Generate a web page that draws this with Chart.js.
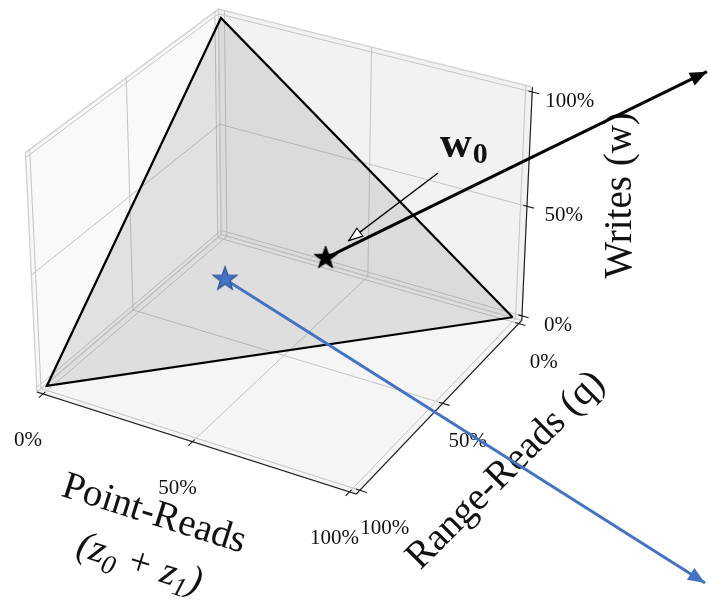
<!DOCTYPE html>
<html>
<head>
<meta charset="utf-8">
<title>Workload space</title>
<script src="https://cdn.jsdelivr.net/npm/chart.js@4.4.1/dist/chart.umd.min.js"></script>
<style>
  html, body { margin: 0; padding: 0; background: #ffffff; }
  #wrap { width: 708px; height: 602px; }
</style>
</head>
<body>
<div id="wrap"><canvas id="chart" width="708" height="602"></canvas></div>
<script>
const CANVAS_W = 708;
const CANVAS_H = 602;

// tick values shared by the three axes, and their labels
const axisTicks = [0, 50, 100];
const tickLabels = ['0%', '50%', '100%'];

// corners of the workload simplex: [point reads, range reads, writes] in %
const simplexCorners = [[100, 0, 0], [0, 100, 0], [0, 0, 100]];

// workloads marked with stars: [point reads, range reads, writes] in %
const expectedWorkload = [50, 25, 25];   // w0
const otherWorkload = [29, 48, 23];

// where the two call-out arrows point, as fractions of the figure
const blackArrowTip = [0.9985, 0.119];
const blueArrowTip = [0.9958, 0.9685];

// camera for the 3-D box (elevation / azimuth in degrees, perspective distance in box units)
const VIEW = { elev: 30, azim: 29.5, dist: 8.75, scale: 349, cx: 284, cy: 240, box: [1, 1, 0.75], pad: 100 / 48 };
const LO = -VIEW.pad, HI = 100 + VIEW.pad;

function project(p) {
  const e = VIEW.elev * Math.PI / 180, a = VIEW.azim * Math.PI / 180;
  const px = p[0] / 100 * VIEW.box[0] - VIEW.box[0] / 2;
  const py = p[1] / 100 * VIEW.box[1] - VIEW.box[1] / 2;
  const pz = p[2] / 100 * VIEW.box[2] - VIEW.box[2] / 2;
  const sx = px * Math.cos(a) - py * Math.sin(a);
  const toward = px * Math.sin(a) + py * Math.cos(a);
  const up = -Math.sin(e) * toward + Math.cos(e) * pz;
  const depth = Math.cos(e) * toward + Math.sin(e) * pz;
  const f = VIEW.dist / (VIEW.dist - depth);
  return { x: VIEW.cx + VIEW.scale * f * sx, y: VIEW.cy - VIEW.scale * f * up };
}
function fromFigure(fr) { return { x: fr[0] * CANVAS_W, y: fr[1] * CANVAS_H }; }

const SERIF = '"Liberation Serif", "Times New Roman", "DejaVu Serif", serif';
const PANE_EDGE = '#d2d2d2';
const GRID = '#c4c4c4';
const BLUE = '#4472c4';
const BLUE_EDGE = '#2f528f';

function starImage(r, fill, stroke, lw) {
  const s = Math.ceil(2 * r + 2 * lw + 2);
  const c = document.createElement('canvas');
  c.width = s; c.height = s;
  const g = c.getContext('2d');
  g.beginPath();
  for (let i = 0; i < 10; i++) {
    const rad = i % 2 === 0 ? r : r * 0.4;
    const ang = -Math.PI / 2 + i * Math.PI / 5;
    g.lineTo(s / 2 + rad * Math.cos(ang), s / 2 + rad * Math.sin(ang));
  }
  g.closePath();
  g.fillStyle = fill; g.fill();
  g.lineWidth = lw; g.strokeStyle = stroke; g.lineJoin = 'miter'; g.stroke();
  return c;
}

const datasets = [];
let order = 500;
function addSet(data, style) {
  datasets.push(Object.assign({
    data: data, showLine: true, pointRadius: 0, pointHoverRadius: 0,
    borderWidth: 1, borderColor: '#000000', backgroundColor: 'rgba(0,0,0,0)',
    fill: false, tension: 0, clip: false, order: order--
  }, style));
}
const addLine = (pts3d, style) => addSet(pts3d.map(project), style);

// back walls and floor of the box
const panes = [
  { poly: [[LO, LO, LO], [LO, HI, LO], [LO, HI, HI], [LO, LO, HI]], color: '#f9f9f9' },
  { poly: [[LO, LO, LO], [HI, LO, LO], [HI, LO, HI], [LO, LO, HI]], color: '#f2f2f2' },
  { poly: [[LO, LO, LO], [HI, LO, LO], [HI, HI, LO], [LO, HI, LO]], color: '#f5f5f5' }
];
panes.forEach(p => addLine([...p.poly, p.poly[0]], {
  fill: 'shape', backgroundColor: p.color, borderColor: PANE_EDGE, borderWidth: 1.4
}));

// grid lines on the three panes
axisTicks.forEach(t => {
  const g = { borderColor: GRID, borderWidth: 1 };
  addLine([[LO, t, LO], [LO, t, HI]], g);
  addLine([[LO, LO, t], [LO, HI, t]], g);
  addLine([[t, LO, LO], [t, LO, HI]], g);
  addLine([[LO, LO, t], [HI, LO, t]], g);
  addLine([[t, LO, LO], [t, HI, LO]], g);
  addLine([[LO, t, LO], [HI, t, LO]], g);
});

// axis lines and tick marks
const axisStyle = { borderColor: '#1a1a1a', borderWidth: 1.1 };
addLine([[LO, HI, LO], [HI, HI, LO]], axisStyle);
addLine([[HI, LO, LO], [HI, HI, LO]], axisStyle);
addLine([[HI, LO, LO], [HI, LO, HI]], axisStyle);
axisTicks.forEach(t => {
  addLine([[t, HI - 1.2, LO], [t, HI + 2.2, LO]], axisStyle);
  addLine([[HI - 1.2, t, LO], [HI + 2.2, t, LO]], axisStyle);
  addLine([[HI - 1.2, LO, t], [HI + 2.2, LO, t]], axisStyle);
});

// the simplex of all workload mixes
addLine([...simplexCorners, simplexCorners[0]], {
  fill: 'shape', backgroundColor: 'rgba(120,120,120,0.19)', borderColor: '#000000', borderWidth: 2.2
});

// call-out from the w0 label to the expected workload
const W0_LABEL = { x: 440, y: 157 };
const w0Pos = project(expectedWorkload);
const calloutTail = { x: W0_LABEL.x - 2, y: W0_LABEL.y + 16 };
const calloutLen = Math.hypot(w0Pos.x - calloutTail.x, w0Pos.y - calloutTail.y);
const calloutTip = {
  x: calloutTail.x + (w0Pos.x - calloutTail.x) * (1 - 29 / calloutLen),
  y: calloutTail.y + (w0Pos.y - calloutTail.y) * (1 - 29 / calloutLen)
};
addSet([calloutTail, calloutTip], {
  borderColor: '#000000', borderWidth: 1.3, textBefore: true,
  arrowHead: { length: 14, half: 5, fill: '#ffffff', stroke: '#000000', lw: 1.1 }
});

// second workload and its arrow
addSet([project(otherWorkload), fromFigure(blueArrowTip)], {
  borderColor: BLUE, borderWidth: 3,
  arrowHead: { length: 17, half: 7, fill: BLUE }
});
addLine([otherWorkload], {
  showLine: false, pointRadius: 10, pointStyle: starImage(12.5, BLUE, BLUE_EDGE, 1.2)
});

// expected workload w0 and its arrow
addSet([w0Pos, fromFigure(blackArrowTip)], {
  borderColor: '#000000', borderWidth: 3,
  arrowHead: { length: 17, half: 7, fill: '#000000' }
});
addLine([expectedWorkload], {
  showLine: false, pointRadius: 10, pointStyle: starImage(12, '#000000', '#000000', 1)
});

// draws a run of differently styled text pieces along a rotated baseline
function drawRuns(ctx, runs, x, y, angleDeg, align, vshift) {
  ctx.save();
  ctx.translate(x, y);
  ctx.rotate(angleDeg * Math.PI / 180);
  ctx.translate(0, vshift || 0);
  let total = 0;
  runs.forEach(r => { ctx.font = r.font; r.w = ctx.measureText(r.text).width; total += r.w + (r.dx || 0); });
  let cur = align === 'left' ? 0 : -total / 2;
  ctx.textBaseline = 'alphabetic';
  ctx.textAlign = 'left';
  ctx.fillStyle = '#111111';
  runs.forEach(r => { ctx.font = r.font; ctx.fillText(r.text, cur + (r.dx || 0), r.dy || 0); cur += r.w + (r.dx || 0); });
  ctx.restore();
}

function drawText(chart) {
  const ctx = chart.ctx;
  const xs = chart.scales.x, ys = chart.scales.y;
  const px = p => ({ x: xs.getPixelForValue(p.x), y: ys.getPixelForValue(p.y) });
  const tickFont = `21px ${SERIF}`;
  const titleFont = `39px ${SERIF}`;
  axisTicks.forEach((t, i) => {
    const a = px(project([t, HI, LO]));
    drawRuns(ctx, [{ text: tickLabels[i], font: tickFont }], a.x - 15, a.y + 45, 0, 'center', 7);
    const b = px(project([HI, t, LO]));
    drawRuns(ctx, [{ text: tickLabels[i], font: tickFont }], b.x + 25, b.y + 37, 0, 'center', 7);
    const c = px(project([HI, LO, t]));
    drawRuns(ctx, [{ text: tickLabels[i], font: tickFont }], c.x + 13 + (100 - t) * 0.09, c.y + 8, 0, 'left', 7);
  });

  const pm = px(project([50, HI, LO]));
  drawRuns(ctx, [{ text: 'Point-Reads', font: titleFont }], pm.x - 38, pm.y + 71, 17.5, 'center', 12);
  const it = `italic 39px ${SERIF}`, sub = `italic 27px ${SERIF}`;
  drawRuns(ctx, [
    { text: '(', font: it }, { text: 'z', font: it }, { text: '0', font: sub, dy: 8 },
    { text: ' + ', font: it }, { text: 'z', font: it }, { text: '1', font: sub, dy: 8 },
    { text: ')', font: it }
  ], pm.x - 53, pm.y + 123, 17.5, 'center', 10);

  const rm = px(project([HI, 50, LO]));
  drawRuns(ctx, [{ text: 'Range-Reads (q)', font: titleFont }], rm.x + 62, rm.y + 66, -45, 'center', 12);

  const wm = px(project([HI, LO, 50]));
  drawRuns(ctx, [{ text: 'Writes (w)', font: titleFont }], wm.x + 93, wm.y - 11, -90, 'center', 11);

  drawRuns(ctx, [
    { text: 'w', font: `bold 44px ${SERIF}` },
    { text: '0', font: `bold 30px ${SERIF}`, dy: 6, dx: 1 }
  ], W0_LABEL.x, W0_LABEL.y, 0, 'left');
}

function drawHead(ctx, pts, h) {
  const tip = pts[pts.length - 1], prev = pts[pts.length - 2];
  const ang = Math.atan2(tip.y - prev.y, tip.x - prev.x);
  ctx.save();
  ctx.translate(tip.x, tip.y);
  ctx.rotate(ang);
  ctx.beginPath();
  ctx.moveTo(0, 0);
  ctx.lineTo(-h.length, -h.half);
  ctx.lineTo(-h.length, h.half);
  ctx.closePath();
  ctx.fillStyle = h.fill;
  ctx.fill();
  if (h.stroke) { ctx.lineWidth = h.lw; ctx.strokeStyle = h.stroke; ctx.stroke(); }
  ctx.restore();
}

const overlay = {
  id: 'workloadOverlay',
  beforeDatasetDraw(chart, args) {
    const ds = chart.data.datasets[args.index];
    if (ds.textBefore) drawText(chart);
  },
  afterDatasetDraw(chart, args) {
    const ds = chart.data.datasets[args.index];
    if (ds.arrowHead) drawHead(chart.ctx, args.meta.data, ds.arrowHead);
  }
};

new Chart(document.getElementById('chart'), {
  type: 'scatter',
  data: { datasets },
  options: {
    responsive: false,
    devicePixelRatio: 1,
    animation: false,
    events: [],
    layout: { padding: 0, autoPadding: false },
    plugins: { legend: { display: false }, tooltip: { enabled: false } },
    scales: {
      x: { type: 'linear', min: 0, max: CANVAS_W, display: false },
      y: { type: 'linear', min: 0, max: CANVAS_H, reverse: true, display: false }
    }
  },
  plugins: [overlay]
});
</script>
</body>
</html>
